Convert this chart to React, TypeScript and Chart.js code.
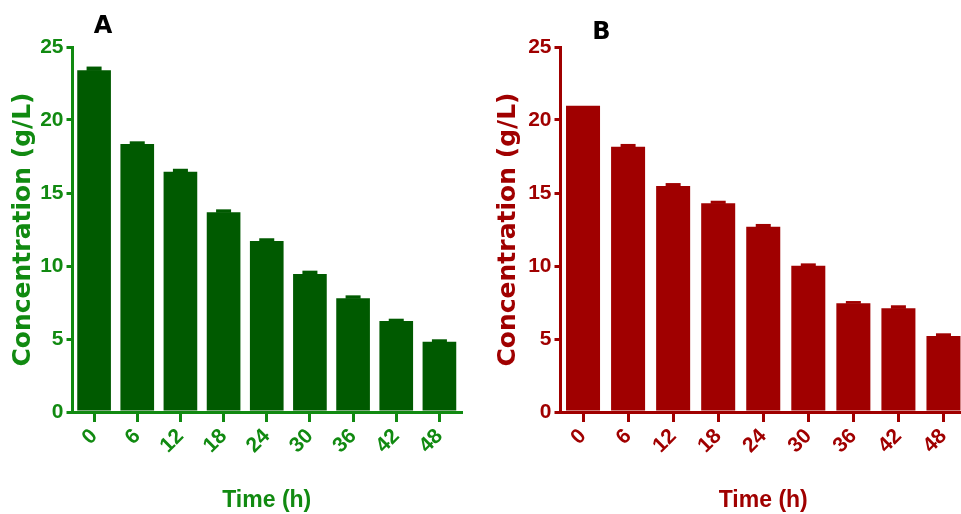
import React, { useEffect, useRef } from "react";
import { Chart, registerables } from "chart.js";

Chart.register(...registerables);

const categories = ["0", "6", "12", "18", "24", "30", "36", "42", "48"];
const valuesA = [23.4, 18.36, 16.46, 13.68, 11.71, 9.45, 7.79, 6.23, 4.82];
const errorsA = [0.26, 0.18, 0.2, 0.2, 0.19, 0.23, 0.2, 0.16, 0.16];
const valuesB = [20.98, 18.17, 15.48, 14.29, 12.69, 10.02, 7.45, 7.1, 5.2];
const errorsB = [0, 0.19, 0.2, 0.18, 0.19, 0.16, 0.15, 0.21, 0.19];
const yMin = 0;
const yMax = 25;
const yStep = 5;

const NARROW = "'Liberation Sans Narrow', 'Arial Narrow', 'Liberation Sans', Arial, sans-serif";
const WIDE = "'DejaVu Sans', Verdana, sans-serif";

const errorPlugin = {
  id: "errs",
  afterDatasetsDraw(chart: any, _args: any, opts: any) {
    const meta = chart.getDatasetMeta(0);
    const ys = chart.scales.y;
    const ctx = chart.ctx;
    const data = chart.data.datasets[0].data as number[];
    ctx.save();
    ctx.fillStyle = opts.color;
    meta.data.forEach((bar: any, i: number) => {
      const e = opts.errors[i];
      if (!e) return;
      const top = ys.getPixelForValue(data[i]);
      const capTop = ys.getPixelForValue(data[i] + e);
      ctx.fillRect(bar.x - opts.capWidth / 2, capTop, opts.capWidth, top - capTop + 0.5);
    });
    ctx.restore();
  },
};

const labelPlugin = {
  id: "panelLabel",
  afterDraw(chart: any, _args: any, opts: any) {
    const ctx = chart.ctx;
    ctx.save();
    ctx.fillStyle = "#000";
    ctx.font = `bold ${opts.size}px ${WIDE}`;
    ctx.textAlign = "center";
    ctx.textBaseline = "middle";
    ctx.fillText(opts.text, opts.x, opts.y);
    ctx.restore();
  },
};

type PanelProps = {
  left: number;
  width: number;
  values: number[];
  errors: number[];
  barColor: string;
  axisColor: string;
  yWidth: number;
  padRight: number;
  titlePad: number;
  barFrac: number;
  label: string;
  labelX: number;
  labelY: number;
};

function Panel(p: PanelProps) {
  const ref = useRef<HTMLCanvasElement>(null);
  useEffect(() => {
    const canvas = ref.current!;
    const chart = new Chart(canvas, {
      type: "bar",
      data: {
        labels: categories,
        datasets: [
          {
            data: p.values,
            backgroundColor: p.barColor,
            borderWidth: 0,
            barPercentage: p.barFrac,
            categoryPercentage: 1,
          },
        ],
      },
      plugins: [errorPlugin, labelPlugin],
      options: {
        animation: false,
        responsive: false,
        maintainAspectRatio: false,
        layout: { padding: { top: 47, left: 0, right: p.padRight, bottom: 0 } },
        plugins: {
          legend: { display: false },
          tooltip: { enabled: false },
          errs: { errors: p.errors, color: p.barColor, capWidth: 15 },
          panelLabel: { text: p.label, x: p.labelX, y: p.labelY, size: 24 },
        } as any,
        scales: {
          x: {
            z: 1,
            grid: {
              display: true,
              drawOnChartArea: false,
              drawTicks: true,
              tickLength: 10,
              offset: false,
              color: p.axisColor,
              lineWidth: 3,
            },
            border: { display: true, color: p.axisColor, width: 3 },
            ticks: {
              color: p.axisColor,
              font: { family: NARROW, size: 21, weight: "bold" },
              minRotation: 45,
              maxRotation: 45,
              padding: 2,
              autoSkip: false,
            },
            title: {
              display: true,
              text: "Time (h)",
              color: p.axisColor,
              font: { family: NARROW, size: 23, weight: "bold", lineHeight: 1 },
              padding: { top: 0, bottom: 2 },
            },
            afterFit: (s: any) => {
              s.height = 102;
            },
          },
          y: {
            z: 1,
            min: yMin,
            max: yMax,
            grid: {
              display: true,
              drawOnChartArea: false,
              drawTicks: true,
              tickLength: 6,
              color: p.axisColor,
              lineWidth: 3,
            },
            border: { display: true, color: p.axisColor, width: 3 },
            ticks: {
              stepSize: yStep,
              color: p.axisColor,
              font: { family: NARROW, size: 21, weight: "bold" },
              padding: 3,
            },
            title: {
              display: true,
              text: "Concentration (g/L)",
              color: p.axisColor,
              font: { family: WIDE, size: 25, weight: "bold", lineHeight: 1.2 },
              padding: { top: p.titlePad, bottom: 0 },
            },
            afterFit: (s: any) => {
              s.width = p.yWidth;
            },
          },
        },
      } as any,
    });
    return () => chart.destroy();
  }, []);
  return (
    <canvas
      ref={ref}
      width={p.width}
      height={514}
      style={{ position: "absolute", left: p.left, top: 0, width: p.width, height: 514 }}
    />
  );
}

export default function App() {
  return (
    <div
      style={{
        position: "absolute",
        left: 0,
        top: 0,
        width: 961,
        height: 514,
        overflow: "hidden",
        background: "#fff",
      }}
    >
      <Panel
        left={0}
        width={480}
        values={valuesA}
        errors={errorsA}
        barColor="#005A00"
        axisColor="#118A11"
        yWidth={72.5}
        padRight={19}
        titlePad={8.5}
        barFrac={0.78}
        label="A"
        labelX={103}
        labelY={27}
      />
      <Panel
        left={480}
        width={520}
        values={valuesB}
        errors={errorsB}
        barColor="#A00000"
        axisColor="#A00000"
        yWidth={80.5}
        padRight={34}
        titlePad={13.5}
        barFrac={0.755}
        label="B"
        labelX={121.5}
        labelY={33}
      />
    </div>
  );
}
